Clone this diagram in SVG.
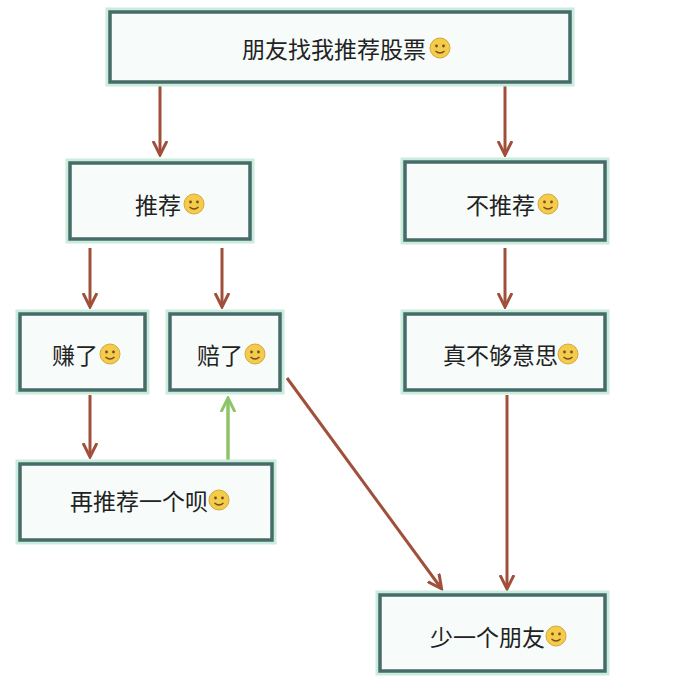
<svg xmlns="http://www.w3.org/2000/svg" width="691" height="694" viewBox="0 0 691 694">
<style>
.box{fill:#f7fcfb;stroke:#476b69;stroke-width:3.5}
.glow{fill:none;stroke:#c9ecdc;stroke-width:9}
.t{font-family:"Noto Sans CJK SC","Noto Sans",sans-serif;font-size:23px;fill:#222;dominant-baseline:central}
.c{stroke:#a0503a;stroke-width:3;fill:none;marker-end:url(#a)}
.g{stroke:#8cc46a;stroke-width:3.5;fill:none;marker-end:url(#ag)}
.face{fill:#f2cc4a;stroke:#d9a53a;stroke-width:1}
</style>
<defs>
<marker id="a" markerWidth="16" markerHeight="16" refX="13" refY="8" orient="auto" markerUnits="userSpaceOnUse" viewBox="0 0 16 16"><path d="M0,1 L14,8 L0,15" fill="none" stroke="#a0503a" stroke-width="3"/></marker>
<marker id="ag" markerWidth="16" markerHeight="16" refX="12" refY="8" orient="auto" markerUnits="userSpaceOnUse" viewBox="0 0 16 16"><path d="M0,1 L14,8 L0,15" fill="none" stroke="#8cc46a" stroke-width="3"/></marker>
<g id="emo"><circle r="10" class="face"/><circle cx="-3.5" cy="-2" r="1.4" fill="#7a4a20"/><circle cx="3.5" cy="-2" r="1.4" fill="#7a4a20"/><path d="M-4.5,3 Q0,7 4.5,3" stroke="#7a4a20" stroke-width="1.4" fill="none"/></g>
</defs>
<rect width="691" height="694" fill="#fff"/>
<g id="connectors">
<line class="c" x1="160" y1="85" x2="160" y2="154"/>
<line class="c" x1="505" y1="85" x2="505" y2="154"/>
<line class="c" x1="90" y1="248" x2="90" y2="306"/>
<line class="c" x1="222" y1="248" x2="222" y2="306"/>
<line class="c" x1="505" y1="248" x2="505" y2="306"/>
<line class="c" x1="90" y1="395" x2="90" y2="456"/>
<line class="g" x1="228" y1="462" x2="228" y2="400"/>
<line class="c" x1="287" y1="378" x2="441" y2="588"/>
<line class="c" x1="507" y1="395" x2="507" y2="588"/>
</g>
<g id="n1"><rect class="glow" x="110" y="12" width="460" height="70"/><rect class="box" x="110" y="12" width="460" height="70"/><text class="t" x="242" y="48">朋友找我推荐股票</text><use href="#emo" x="440" y="48"/></g>
<g id="n2"><rect class="glow" x="70" y="163" width="180" height="76"/><rect class="box" x="70" y="163" width="180" height="76"/><text class="t" x="135" y="204">推荐</text><use href="#emo" x="194" y="204"/></g>
<g id="n3"><rect class="glow" x="405" y="162" width="200" height="78"/><rect class="box" x="405" y="162" width="200" height="78"/><text class="t" x="466" y="204">不推荐</text><use href="#emo" x="548" y="204"/></g>
<g id="n4"><rect class="glow" x="20" y="314" width="125" height="76"/><rect class="box" x="20" y="314" width="125" height="76"/><text class="t" x="52" y="354">赚了</text><use href="#emo" x="110" y="354"/></g>
<g id="n5"><rect class="glow" x="170" y="314" width="110" height="76"/><rect class="box" x="170" y="314" width="110" height="76"/><text class="t" x="197" y="354">赔了</text><use href="#emo" x="255" y="354"/></g>
<g id="n6"><rect class="glow" x="405" y="314" width="200" height="76"/><rect class="box" x="405" y="314" width="200" height="76"/><text class="t" x="443" y="354">真不够意思</text><use href="#emo" x="568" y="354"/></g>
<g id="n7"><rect class="glow" x="20" y="464" width="252" height="76"/><rect class="box" x="20" y="464" width="252" height="76"/><text class="t" x="70" y="500">再推荐一个呗</text><use href="#emo" x="219" y="500"/></g>
<g id="n8"><rect class="glow" x="380" y="595" width="225" height="76"/><rect class="box" x="380" y="595" width="225" height="76"/><text class="t" x="430" y="636">少一个朋友</text><use href="#emo" x="556" y="636"/></g>
</svg>
